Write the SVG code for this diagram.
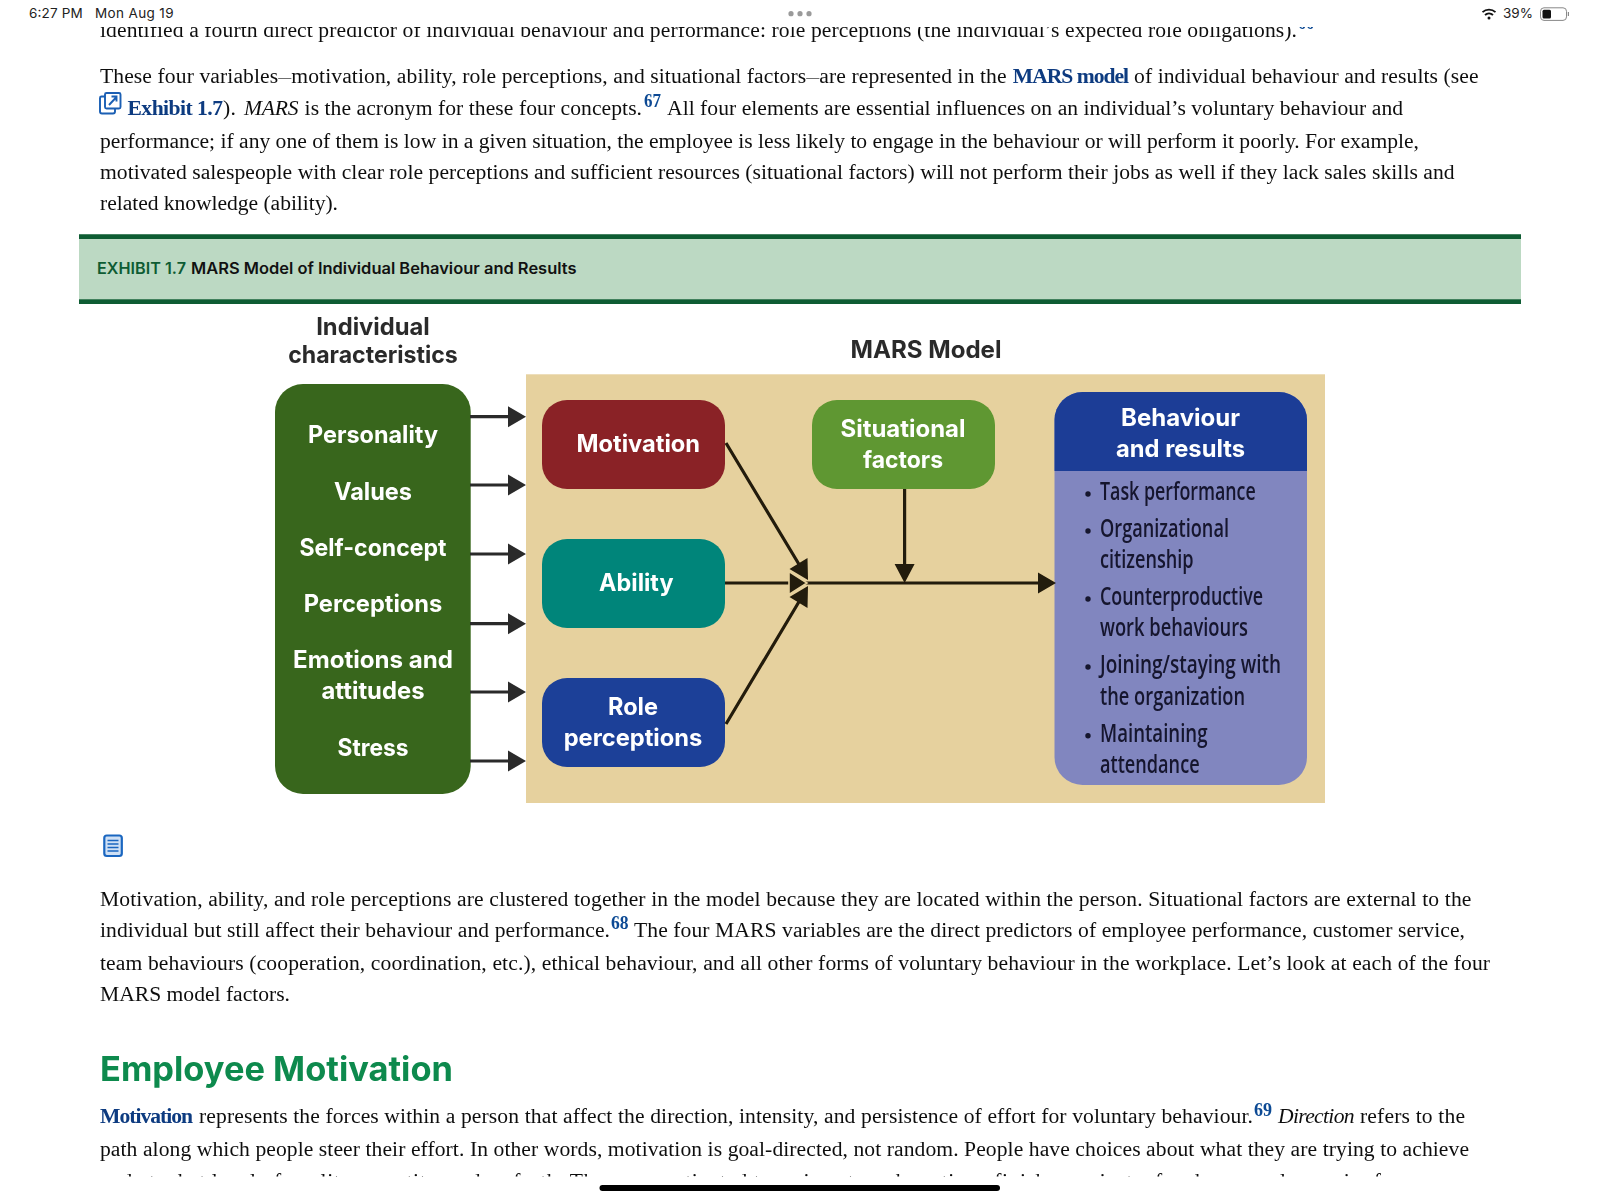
<svg xmlns="http://www.w3.org/2000/svg" width="1600" height="1200" viewBox="0 0 1600 1200">
<style>
text{font-family:"Liberation Serif","Times New Roman",serif;font-size:21.6px;fill:#111}
.b{font-weight:700;fill:#0b3a80}
.i{font-style:italic}
.sup{font-size:18px;font-weight:700;fill:#0b4a94}
.st{font-family:Inter,"Liberation Sans",sans-serif;font-size:13.5px;fill:#222}
.hd{font-family:Inter,"Open Sans",sans-serif;font-weight:600;font-size:15.5px}
.h2{font-family:Inter,"Open Sans",sans-serif;font-weight:700;font-size:34px;fill:#0f8a4e}
.lb{font-family:Inter,"Open Sans",sans-serif;font-weight:700;font-size:24px;fill:#fff;text-anchor:middle}
.tt{font-family:Inter,"Open Sans",sans-serif;font-weight:700;font-size:24px;fill:#2c2c2c;text-anchor:middle}
.li{font-family:"Open Sans","Liberation Sans",sans-serif;font-weight:600;font-size:25px;fill:#15152e}
.k{fill:none;stroke:#2b2b2b;stroke-width:3.2}
.k2{fill:none;stroke:#231a08;stroke-width:3.2}
.h1{fill:#2b2b2b}
.h3{fill:#231a08}
</style>
<defs>
<filter id="soft" x="-5%" y="-5%" width="110%" height="110%"><feGaussianBlur stdDeviation="0.65"/></filter>
<filter id="soft2" x="-2%" y="-5%" width="104%" height="110%"><feGaussianBlur stdDeviation="0.3"/></filter>
</defs>
<rect width="1600" height="1200" fill="#fff"/>

<g id="body-top" filter="url(#soft2)">
<text x="100" y="36.7" textLength="1197">identified a fourth direct predictor of individual behaviour and performance: role perceptions (the individual’s expected role obligations).</text>
<text class="sup" x="1298" y="29" textLength="16" lengthAdjust="spacingAndGlyphs">66</text>
<rect x="0" y="0" width="1600" height="27" fill="#fff"/>
<text x="100" y="82.7" textLength="906.6">These four variables<tspan dy="-2.2" style="font-size:13px">—</tspan><tspan dy="2.2">motivation, ability, role perceptions, and situational factors</tspan><tspan dy="-2.2" style="font-size:13px">—</tspan><tspan dy="2.2">are represented in the</tspan></text>
<text class="b" x="1012.8" y="82.7" textLength="116.2">MARS model</text>
<text x="1134" y="82.7" textLength="344.6">of individual behaviour and results (see</text>
<g id="link-icon" fill="none" stroke="#1a5fb4" stroke-width="1.9">
<path d="M105 96.5h-3.5a1.5 1.5 0 0 0-1.5 1.5v13.5a2 2 0 0 0 2 2h11a2 2 0 0 0 2-2V109"/>
<rect x="105" y="93" width="15.5" height="15.5" rx="1.5"/>
<path d="M109 105l7.5-8M111.5 96.5h5v5"/>
</g>
<text class="b" x="127.5" y="115" textLength="95.5">Exhibit 1.7</text>
<text x="223" y="115" textLength="13">).</text>
<text class="i" x="244" y="115" textLength="54.5">MARS</text>
<text x="304.6" y="115" textLength="337.4">is the acronym for these four concepts.</text>
<text class="sup" x="644" y="107" textLength="17" lengthAdjust="spacingAndGlyphs">67</text>
<text x="667" y="115" textLength="736">All four elements are essential influences on an individual’s voluntary behaviour and</text>
<text x="100" y="147.5" textLength="1319">performance; if any one of them is low in a given situation, the employee is less likely to engage in the behaviour or will perform it poorly. For example,</text>
<text x="100" y="179" textLength="1354.6">motivated salespeople with clear role perceptions and sufficient resources (situational factors) will not perform their jobs as well if they lack sales skills and</text>
<text x="100" y="210" textLength="238">related knowledge (ability).</text>
</g>

<g id="exhibit-banner">
<rect x="79" y="234.3" width="1442" height="69.7" fill="#bcd9c3"/>
<rect x="79" y="234.3" width="1442" height="4.7" fill="#0e5c33"/>
<rect x="79" y="299.3" width="1442" height="4.7" fill="#0e5c33"/>
<text class="hd" x="97" y="274" textLength="89" lengthAdjust="spacingAndGlyphs" style="fill:#0e5c33">EXHIBIT 1.7</text>
<text class="hd" x="191" y="274" textLength="385.5" lengthAdjust="spacingAndGlyphs">MARS Model of Individual Behaviour and Results</text>
</g>

<g id="exhibit" filter="url(#soft)">
<rect id="mars-panel" x="526" y="374.3" width="799" height="428.7" fill="#e6d19e"/>
<text class="tt" x="373" y="335" textLength="113.6" lengthAdjust="spacingAndGlyphs">Individual</text>
<text class="tt" x="373" y="363" textLength="169.6" lengthAdjust="spacingAndGlyphs">characteristics</text>
<text class="tt" x="926" y="358" textLength="151" lengthAdjust="spacingAndGlyphs">MARS Model</text>

<g id="characteristics">
<rect x="275" y="384" width="195.7" height="410" rx="28" fill="#38661b"/>
<text class="lb" x="373" y="443" textLength="130" lengthAdjust="spacingAndGlyphs">Personality</text>
<text class="lb" x="373" y="499.5" textLength="78" lengthAdjust="spacingAndGlyphs">Values</text>
<text class="lb" x="373" y="556" textLength="147" lengthAdjust="spacingAndGlyphs">Self-concept</text>
<text class="lb" x="373" y="612" textLength="138.6" lengthAdjust="spacingAndGlyphs">Perceptions</text>
<text class="lb" x="373" y="668" textLength="160" lengthAdjust="spacingAndGlyphs">Emotions and</text>
<text class="lb" x="373" y="699" textLength="103" lengthAdjust="spacingAndGlyphs">attitudes</text>
<text class="lb" x="373" y="756" textLength="71" lengthAdjust="spacingAndGlyphs">Stress</text>
</g>
<g id="motivation">
<rect x="542" y="400" width="183" height="89" rx="25" fill="#8a2328"/>
<text class="lb" x="638.3" y="452" textLength="123.6" lengthAdjust="spacingAndGlyphs">Motivation</text>
</g>
<g id="ability">
<rect x="542" y="539" width="183" height="89" rx="25" fill="#00857a"/>
<text class="lb" x="636.3" y="591" textLength="74.5" lengthAdjust="spacingAndGlyphs">Ability</text>
</g>
<g id="role-perceptions">
<rect x="542" y="678" width="183" height="89" rx="25" fill="#1c3f98"/>
<text class="lb" x="633" y="714.5" textLength="50" lengthAdjust="spacingAndGlyphs">Role</text>
<text class="lb" x="633" y="746" textLength="138.6" lengthAdjust="spacingAndGlyphs">perceptions</text>
</g>
<g id="situational-factors">
<rect x="812" y="400" width="183" height="89" rx="25" fill="#5e9730"/>
<text class="lb" x="903" y="437" textLength="125" lengthAdjust="spacingAndGlyphs">Situational</text>
<text class="lb" x="903" y="468" textLength="80" lengthAdjust="spacingAndGlyphs">factors</text>
</g>
<g id="behaviour-results">
<rect x="1054.5" y="392" width="252.5" height="393" rx="28" fill="#8186bf"/>
<path d="M1054.5 471V420a28 28 0 0 1 28-28h196.500a28 28 0 0 1 28 28v51z" fill="#1a3e96"/>
<text class="lb" x="1180.5" y="425.500" textLength="119" lengthAdjust="spacingAndGlyphs">Behaviour</text>
<text class="lb" x="1180.5" y="456.500" textLength="129" lengthAdjust="spacingAndGlyphs">and results</text>
<g fill="#15152e"><circle cx="1088" cy="494" r="2.7"/><circle cx="1088" cy="531" r="2.7"/><circle cx="1088" cy="599" r="2.7"/><circle cx="1088" cy="667" r="2.7"/><circle cx="1088" cy="735.7" r="2.7"/></g>
<text class="li" x="1100" y="500" textLength="155.7" lengthAdjust="spacingAndGlyphs">Task performance</text>
<text class="li" x="1100" y="537.3" textLength="129" lengthAdjust="spacingAndGlyphs">Organizational</text>
<text class="li" x="1100" y="568" textLength="93.6" lengthAdjust="spacingAndGlyphs">citizenship</text>
<text class="li" x="1100" y="605" textLength="163" lengthAdjust="spacingAndGlyphs">Counterproductive</text>
<text class="li" x="1100" y="636" textLength="148" lengthAdjust="spacingAndGlyphs">work behaviours</text>
<text class="li" x="1100" y="673.3" textLength="181" lengthAdjust="spacingAndGlyphs">Joining/staying with</text>
<text class="li" x="1100" y="705" textLength="145" lengthAdjust="spacingAndGlyphs">the organization</text>
<text class="li" x="1100" y="741.7" textLength="107.5" lengthAdjust="spacingAndGlyphs">Maintaining</text>
<text class="li" x="1100" y="772.7" textLength="99.6" lengthAdjust="spacingAndGlyphs">attendance</text>
</g>

<g id="connectors">
<path class="k" d="M470 416.7H510M470 485H510M470 554H510M470 623.7H510M470 692H510M470 761H510"/>
<path class="h1" d="M508 406.200l18 10.500-18 10.500zM508 474.500l18 10.500-18 10.500zM508 543.500l18 10.500-18 10.500zM508 613.200l18 10.500-18 10.500zM508 681.500l18 10.500-18 10.500zM508 750.500l18 10.500-18 10.500z"/>
<path class="k2" d="M726 443L803 571M725 583H792M726 724L803 595M800 583H1040M904.6 489V566"/>
<path class="h3" d="M807.5 558L789.500 569L808 580zM807.500 608L789.500 597L808 586zM1038 572.500l18 10.500-18 10.500zM894.6 564h20l-10 19z"/>
<path class="h3" d="M789 571.500L807 583L789 594.500z" stroke="#e6d19e" stroke-width="1.6" stroke-linejoin="miter"/>
</g>
</g>

<g id="doc-icon">
<rect x="104.300" y="835.5" width="17.5" height="20.5" rx="2.5" fill="#cfe0f5" stroke="#1a66c0" stroke-width="2.2"/>
<path d="M107.5 840.5h11M107.5 844h11M107.5 847.5h11M107.5 851h11" stroke="#1a66c0" stroke-width="1.6" fill="none"/>
</g>

<g id="body-bottom" filter="url(#soft2)">
<text x="100" y="906" textLength="1371.4">Motivation, ability, and role perceptions are clustered together in the model because they are located within the person. Situational factors are external to the</text>
<text x="100" y="937.3" textLength="510">individual but still affect their behaviour and performance.</text>
<text class="sup" x="611" y="929" textLength="17.6" lengthAdjust="spacingAndGlyphs">68</text>
<text x="634" y="937.3" textLength="831">The four MARS variables are the direct predictors of employee performance, customer service,</text>
<text x="100" y="969.5" textLength="1390">team behaviours (cooperation, coordination, etc.), ethical behaviour, and all other forms of voluntary behaviour in the workplace. Let’s look at each of the four</text>
<text x="100" y="1001" textLength="190">MARS model factors.</text>
<text class="h2" x="100" y="1081" textLength="353" lengthAdjust="spacingAndGlyphs">Employee Motivation</text>
<text class="b" x="100" y="1123" textLength="93">Motivation</text>
<text x="199" y="1123" textLength="1054">represents the forces within a person that affect the direction, intensity, and persistence of effort for voluntary behaviour.</text>
<text class="sup" x="1254" y="1116" textLength="18" lengthAdjust="spacingAndGlyphs">69</text>
<text class="i" x="1278" y="1123" textLength="76.6">Direction</text>
<text x="1360" y="1123" textLength="105">refers to the</text>
<text x="100" y="1155.5" textLength="1369">path along which people steer their effort. In other words, motivation is goal-directed, not random. People have choices about what they are trying to achieve</text>
<text x="100" y="1187.5" textLength="1300">and at what level of quality, quantity, and so forth. They are motivated to arrive at work on time, finish a project a few hours early, or aim for</text>
<rect x="0" y="1176.5" width="1600" height="23.5" fill="#fff"/>
</g>

<g id="status-bar">
<text class="st" x="29" y="18.3" textLength="53.6">6:27 PM</text>
<text class="st" x="95" y="18.3" textLength="78.5">Mon Aug 19</text>
<g fill="#9a9a9a"><circle cx="791" cy="13.7" r="2.6"/><circle cx="800" cy="13.7" r="2.6"/><circle cx="809" cy="13.7" r="2.6"/></g>
<g id="wifi" fill="none" stroke="#111" stroke-width="1.8"><path d="M1482.5 12.200a9.5 9.5 0 0 1 13 0M1485 15a6 6 0 0 1 8 0"/></g>
<circle cx="1489" cy="18" r="1.5" fill="#111"/>
<text class="st" x="1503" y="18.3" textLength="30">39%</text>
<g id="battery"><rect x="1540.5" y="7.8" width="26" height="12.6" rx="3.5" fill="none" stroke="#888" stroke-width="1"/><rect x="1542.5" y="9.8" width="8.5" height="8.6" rx="1.5" fill="#111"/><rect x="1567.8" y="12" width="1.2" height="4" fill="#888"/></g>
</g>
<rect id="home-bar" x="599.5" y="1185" width="400.5" height="6" rx="3" fill="#000"/>
</svg>
